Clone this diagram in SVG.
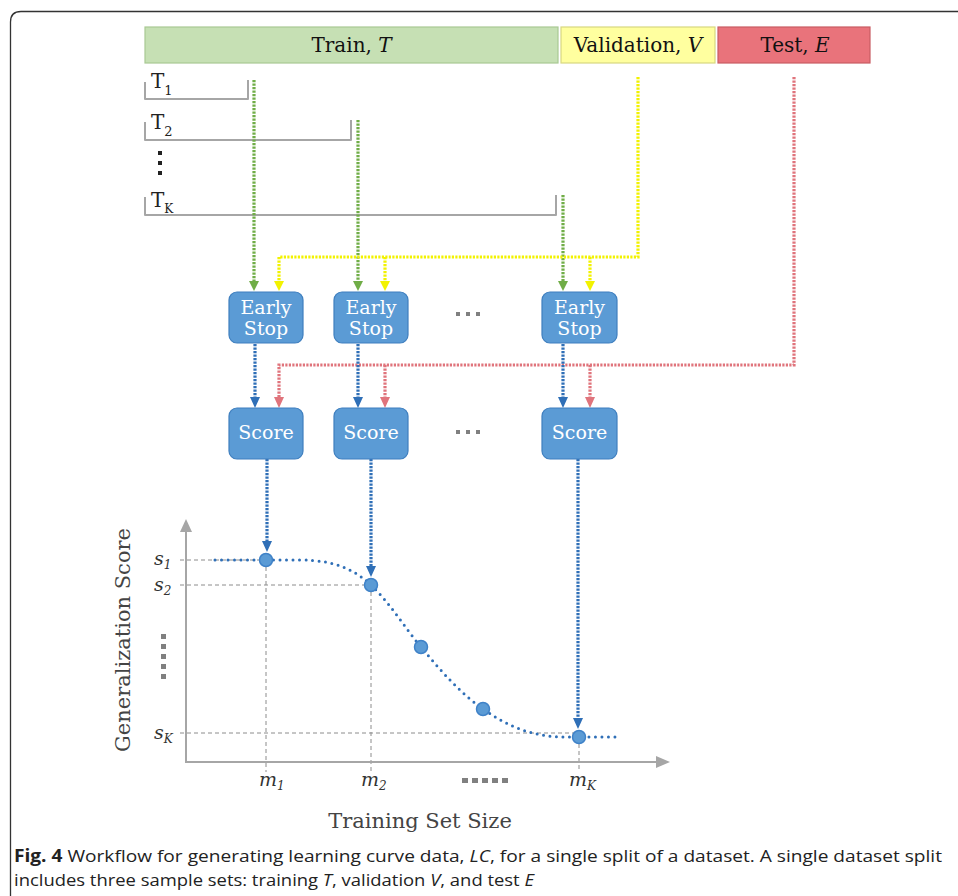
<svg xmlns="http://www.w3.org/2000/svg" width="958" height="896" viewBox="0 0 958 896">
<defs>
<style>
.serif{font-family:"DejaVu Serif","Liberation Serif",serif;}
.bar{stroke-width:1.2;}
.box{fill:#5b9bd5;stroke:#3f7fbf;stroke-width:1.2;}
.boxt{font-family:"DejaVu Serif","Liberation Serif",serif;font-size:19px;fill:#ffffff;text-anchor:middle;}
.dl{fill:none;stroke-width:3.2;stroke-dasharray:2.2 1.3;}
.g{stroke:#70ad47;}
.y{stroke:#f2f200;}
.r{stroke:#e0747c;}
.b{stroke:#2f6fb7;}
.brk{fill:none;stroke:#a6a6a6;stroke-width:2;stroke-linejoin:round;}
.guide{fill:none;stroke:#8c8c8c;stroke-width:1;stroke-dasharray:4 3;}
.axis{fill:none;stroke:#a6a6a6;stroke-width:2;}
.pt{fill:#5b9bd5;stroke:#3f82c8;stroke-width:1.5;}
.lab{font-family:"DejaVu Serif","Liberation Serif",serif;font-style:italic;fill:#333;}
.sq{fill:#808080;}
</style>
</defs>
<!-- frame -->
<path d="M10.5,896 V22 Q10.5,11.5 21,11.5 H958" fill="none" stroke="#333" stroke-width="1.3"/>

<!-- data sets -->
<g id="train"><rect x="145" y="27" width="413" height="36" fill="#c6e0b4" stroke="#a9c993" class="bar"/><text x="351.5" y="51.5" class="serif" font-size="20" text-anchor="middle" fill="#111">Train, <tspan font-style="italic">T</tspan></text></g>
<g id="validation"><rect x="561" y="27" width="154" height="36" fill="#ffff9f" stroke="#d8d880" class="bar"/><text x="638" y="51.5" class="serif" font-size="20" text-anchor="middle" fill="#111">Validation, <tspan font-style="italic">V</tspan></text></g>
<g id="test"><rect x="718" y="27" width="152" height="36" fill="#e9737b" stroke="#c95c63" class="bar"/><text x="795" y="51.5" class="serif" font-size="20" text-anchor="middle" fill="#111">Test, <tspan font-style="italic">E</tspan></text></g>

<!-- subsets -->
<g id="t1"><path d="M145,82 V99 H248 V80" class="brk"/><text x="151" y="88" class="serif" font-size="20" fill="#222">T<tspan font-size="13" dy="7">1</tspan></text></g>
<g id="t2"><path d="M145,122 V140 H351 V120" class="brk"/><text x="151" y="129" class="serif" font-size="20" fill="#222">T<tspan font-size="13" dy="7">2</tspan></text></g>
<g id="tdots"><rect x="158" y="151" width="4" height="4" fill="#222"/><rect x="158" y="161" width="4" height="4" fill="#222"/><rect x="158" y="171" width="4" height="4" fill="#222"/></g>
<g id="tk"><path d="M145,197 V215 H556 V195" class="brk"/><text x="151" y="207" class="serif" font-size="20" fill="#222">T<tspan font-size="12" dy="6">K</tspan></text></g>

<!-- connectors -->
<g id="connectors">
<path d="M254,80 V283" class="dl g"/>
<path d="M358,120 V283" class="dl g"/>
<path d="M563,195 V283" class="dl g"/>
<path d="M638,77 V257 H279 V283" class="dl y"/>
<path d="M385,257 V283" class="dl y"/>
<path d="M590,257 V283" class="dl y"/>
<path d="M794,77 V365 H279 V399" class="dl r"/>
<path d="M385,365 V399" class="dl r"/>
<path d="M590,365 V399" class="dl r"/>
<path d="M255,344 V399" class="dl b"/>
<path d="M358,344 V399" class="dl b"/>
<path d="M563,344 V399" class="dl b"/>
<path d="M267,459 V543" class="dl b"/>
<path d="M371,459 V568" class="dl b"/>
<path d="M578,459 V720" class="dl b"/>
<!-- arrowheads -->
<path d="M249,281 h10 l-5,10 z" fill="#70ad47"/>
<path d="M353,281 h10 l-5,10 z" fill="#70ad47"/>
<path d="M558,281 h10 l-5,10 z" fill="#70ad47"/>
<path d="M274,281 h10 l-5,10 z" fill="#f2f200"/>
<path d="M380,281 h10 l-5,10 z" fill="#f2f200"/>
<path d="M585,281 h10 l-5,10 z" fill="#f2f200"/>
<path d="M250,397 h10 l-5,11 z" fill="#2f6fb7"/>
<path d="M353,397 h10 l-5,11 z" fill="#2f6fb7"/>
<path d="M558,397 h10 l-5,11 z" fill="#2f6fb7"/>
<path d="M274,397 h10 l-5,11 z" fill="#e0747c"/>
<path d="M380,397 h10 l-5,11 z" fill="#e0747c"/>
<path d="M585,397 h10 l-5,11 z" fill="#e0747c"/>
<path d="M262,541 h10 l-5,11 z" fill="#2f6fb7"/>
<path d="M366,566 h10 l-5,11 z" fill="#2f6fb7"/>
<path d="M573,718 h10 l-5,11 z" fill="#2f6fb7"/>
</g>

<!-- early stop nodes -->
<g id="es1"><rect x="229" y="292" width="74" height="51" rx="8" class="box"/><text x="266" y="314" class="boxt">Early</text><text x="266" y="335" class="boxt">Stop</text></g>
<g id="es2"><rect x="334" y="292" width="74" height="51" rx="8" class="box"/><text x="371" y="314" class="boxt">Early</text><text x="371" y="335" class="boxt">Stop</text></g>
<g id="es3"><rect x="542" y="292" width="75" height="51" rx="8" class="box"/><text x="579.5" y="314" class="boxt">Early</text><text x="579.5" y="335" class="boxt">Stop</text></g>
<g id="esdots"><rect x="456" y="312" width="4" height="4" class="sq"/><rect x="466" y="312" width="4" height="4" class="sq"/><rect x="476" y="312" width="4" height="4" class="sq"/></g>

<!-- score nodes -->
<g id="sc1"><rect x="229" y="408" width="74" height="51" rx="8" class="box"/><text x="266" y="439" class="boxt">Score</text></g>
<g id="sc2"><rect x="334" y="408" width="74" height="51" rx="8" class="box"/><text x="371" y="439" class="boxt">Score</text></g>
<g id="sc3"><rect x="542" y="408" width="75" height="51" rx="8" class="box"/><text x="579.5" y="439" class="boxt">Score</text></g>
<g id="scdots"><rect x="456" y="430" width="4" height="4" class="sq"/><rect x="466" y="430" width="4" height="4" class="sq"/><rect x="476" y="430" width="4" height="4" class="sq"/></g>

<!-- chart -->
<g id="chart">
<path d="M180,560 H266 M180,585 H371 M180,733 H579" class="guide"/>
<path d="M266,560 V772 M371,585 V772 M579,737 V772" class="guide"/>
<path d="M186,762 V530" class="axis"/>
<path d="M180,532 L186,519 L192,532 Z" fill="#a6a6a6"/>
<path d="M185,762 H658" class="axis"/>
<path d="M656,756 L670,762 L656,768 Z" fill="#a6a6a6"/>
<path d="M215,560 H300 C335,560 355,570 371,585 C390,603 405,628 421,647 C440,670 460,693 483,709 C510,728 535,737 565,737 H617" fill="none" stroke="#2f6fb7" stroke-width="3" stroke-linecap="round" stroke-dasharray="0 6.5"/>
<circle cx="266" cy="560" r="6.5" class="pt"/>
<circle cx="371" cy="585" r="6.5" class="pt"/>
<circle cx="421" cy="647" r="6.5" class="pt"/>
<circle cx="483" cy="709" r="6.5" class="pt"/>
<circle cx="579" cy="737" r="6.5" class="pt"/>
<text x="154" y="565" class="lab" font-size="19">s<tspan font-size="12" dy="4">1</tspan></text>
<text x="154" y="591" class="lab" font-size="19">s<tspan font-size="12" dy="4">2</tspan></text>
<text x="154" y="739" class="lab" font-size="19">s<tspan font-size="12" dy="4">K</tspan></text>
<g class="sq"><rect x="161" y="634" width="5" height="5"/><rect x="161" y="644" width="5" height="5"/><rect x="161" y="654" width="5" height="5"/><rect x="161" y="664" width="5" height="5"/><rect x="161" y="674" width="5" height="5"/></g>
<text x="259" y="786" class="lab" font-size="19">m<tspan font-size="12" dy="4">1</tspan></text>
<text x="361" y="786" class="lab" font-size="19">m<tspan font-size="12" dy="4">2</tspan></text>
<text x="569" y="786" class="lab" font-size="19">m<tspan font-size="12" dy="4">K</tspan></text>
<g class="sq"><rect x="462" y="778" width="6" height="5"/><rect x="472" y="778" width="6" height="5"/><rect x="482" y="778" width="6" height="5"/><rect x="492" y="778" width="6" height="5"/><rect x="502" y="778" width="6" height="5"/></g>
<text x="0" y="0" transform="translate(130,640) rotate(-90)" class="serif" font-size="21" fill="#444" text-anchor="middle">Generalization Score</text>
<text x="420" y="828" class="serif" font-size="21" fill="#444" text-anchor="middle">Training Set Size</text>
</g>

<!-- caption -->
<g id="caption" font-family="'Open Sans','Noto Sans','Liberation Sans',sans-serif" font-size="17" fill="#222">
<text x="14" y="862" textLength="928" lengthAdjust="spacingAndGlyphs"><tspan font-weight="bold">Fig. 4</tspan>  Workflow for generating learning curve data, <tspan font-style="italic">LC</tspan>, for a single split of a dataset. A single dataset split</text>
<text x="14" y="886" textLength="520" lengthAdjust="spacingAndGlyphs">includes three sample sets: training <tspan font-style="italic">T</tspan>, validation <tspan font-style="italic">V</tspan>, and test <tspan font-style="italic">E</tspan></text>
</g>
</svg>
